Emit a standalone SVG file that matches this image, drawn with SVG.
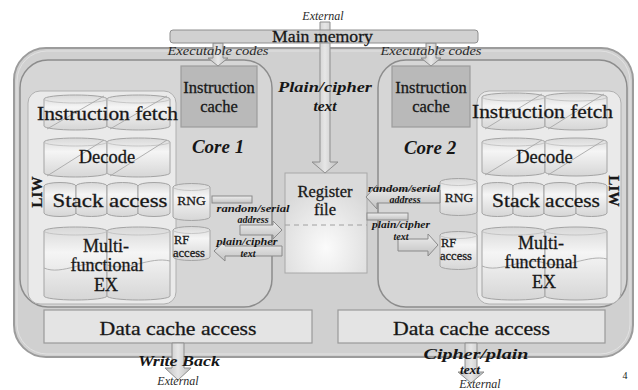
<svg xmlns="http://www.w3.org/2000/svg" width="638" height="390" viewBox="0 0 638 390">
  <defs>
    <linearGradient id="drum" x1="0" y1="0" x2="0" y2="1">
      <stop offset="0" stop-color="#d8d8d8"/>
      <stop offset="0.35" stop-color="#f5f5f5"/>
      <stop offset="1" stop-color="#d6d6d6"/>
    </linearGradient>
    <radialGradient id="rfGrad" cx="0.5" cy="0.75" r="0.65">
      <stop offset="0" stop-color="#fbfbfb"/>
      <stop offset="1" stop-color="#dadada"/>
    </radialGradient>
    <linearGradient id="arrowGrad" x1="0" y1="0" x2="0" y2="1">
      <stop offset="0" stop-color="#eeeeee"/>
      <stop offset="1" stop-color="#c2c2c2"/>
    </linearGradient>
    <linearGradient id="vArrowGrad" x1="0" y1="0" x2="1" y2="0">
      <stop offset="0" stop-color="#bdbdbd"/>
      <stop offset="0.5" stop-color="#e6e6e6"/>
      <stop offset="1" stop-color="#bdbdbd"/>
    </linearGradient>
  </defs>
  <style>
    .t { font-family: "Liberation Serif", "Times New Roman", serif; fill: #161616; text-anchor: middle; }
    .heavy { stroke: #1e1e1e; stroke-width: 0.3; }
    .stage { font-size: 18.5px; }
    .ex { font-size: 18px; }
    .lbl { font-style: italic; font-size: 12px; fill: #2a2a2a; }
    .bi { font-style: italic; font-weight: bold; }
    .tiny { font-style: italic; font-weight: bold; font-size: 10px; }
    .start { text-anchor: start; }
    .drum { fill: url(#drum); stroke: #a4a4a4; stroke-width: 1; }
    .rim { fill: none; stroke: #bdbdbd; stroke-width: 0.8; }
    .diag { fill: none; stroke: #a8a8a8; stroke-width: 0.9; }
    .panel { fill: #eaeaea; stroke: #b0b0b0; stroke-width: 1; }
    .core { fill: #d6d6d6; stroke: #8c8c8c; stroke-width: 1.5; }
    .icache { fill: #b9b9b9; stroke: #9c9c9c; stroke-width: 1.2; }
    .dcache { fill: #e4e4e4; stroke: #9a9a9a; stroke-width: 1.2; }
    .arrow { fill: url(#arrowGrad); stroke: #8a8a8a; stroke-width: 1; }
    .varrow { fill: url(#vArrowGrad); stroke: #8e8e8e; stroke-width: 1; }
  </style>

  <rect width="638" height="390" fill="#ffffff"/>

  <!-- chip outline -->
  <g id="chip">
    <rect x="14" y="48" width="619" height="309" rx="32" fill="#d0d0d0" stroke="#9c9c9c" stroke-width="2"/>
    <rect x="17" y="51" width="613" height="303" rx="30" fill="none" stroke="#e2e2e2" stroke-width="1"/>
  </g>

  <!-- core 1 -->
  <g id="core1">
    <rect class="core" x="20" y="60" width="252" height="247" rx="28"/>
    <rect class="panel" x="28" y="91" width="148" height="213" rx="12"/>
    <text class="t heavy" font-weight="bold" font-size="15" transform="translate(42,192) rotate(-90)">LIW</text>
    <text class="t bi" x="218" y="153" font-size="19">Core 1</text>
  </g>

  <g id="core1-icache">
    <rect class="icache" x="181" y="66" width="76" height="61"/>
    <text class="t heavy" x="219" y="93" font-size="16.5">Instruction</text>
    <text class="t heavy" x="219" y="112" font-size="16.5">cache</text>
  </g>

  <g id="core1-fetch">
    <path class="drum" d="M44,99 A31.5,4 0 0 1 107,99 V126 A31.5,4 0 0 1 44,126 Z"/>
    <path class="drum" d="M107,99 A31.5,4 0 0 1 170,99 V126 A31.5,4 0 0 1 107,126 Z"/>
    <path class="rim" d="M44,99 A31.5,4 0 0 0 107,99 M107,99 A31.5,4 0 0 0 170,99"/>
    <path class="diag" d="M47,129 L104,96 M110,129 L167,96"/>
    <text class="t stage heavy" x="107.5" y="120" textLength="141" lengthAdjust="spacingAndGlyphs">Instruction fetch</text>
  </g>

  <g id="core1-decode">
    <path class="drum" d="M44,142 A31.5,4 0 0 1 107,142 V173 A31.5,4 0 0 1 44,173 Z"/>
    <path class="drum" d="M107,142 A31.5,4 0 0 1 170,142 V173 A31.5,4 0 0 1 107,173 Z"/>
    <path class="rim" d="M44,142 A31.5,4 0 0 0 107,142 M107,142 A31.5,4 0 0 0 170,142"/>
    <path class="diag" d="M47,176 L104,140 M110,176 L167,140"/>
    <text class="t stage heavy" x="107" y="163">Decode</text>
  </g>

  <g id="core1-stack">
    <path class="drum" d="M44,186 A16,3.5 0 0 1 76,186 V213 A16,3.5 0 0 1 44,213 Z"/>
    <path class="drum" d="M76,186 A15.5,3.5 0 0 1 107,186 V213 A15.5,3.5 0 0 1 76,213 Z"/>
    <path class="drum" d="M107,186 A15.5,3.5 0 0 1 138,186 V213 A15.5,3.5 0 0 1 107,213 Z"/>
    <path class="drum" d="M138,186 A16,3.5 0 0 1 170,186 V213 A16,3.5 0 0 1 138,213 Z"/>
    <text class="t stage heavy" x="110" y="207" textLength="115" lengthAdjust="spacingAndGlyphs">Stack access</text>
  </g>

  <g id="core1-ex">
    <path class="drum" d="M44,231 A31.5,4 0 0 1 107,231 V296 A31.5,4 0 0 1 44,296 Z"/>
    <path class="drum" d="M107,231 A31.5,4 0 0 1 170,231 V296 A31.5,4 0 0 1 107,296 Z"/>
    <path class="rim" d="M44,231 A31.5,4 0 0 0 107,231 M107,231 A31.5,4 0 0 0 170,231"/>
    <path class="diag" d="M44,268 C62,276 86,258 107,265 S150,256 170,261"/>
    <text class="t ex heavy" x="106" y="252">Multi-</text>
    <text class="t ex heavy" x="107" y="271">functional</text>
    <text class="t ex heavy" x="106" y="291">EX</text>
  </g>

  <g id="core1-rng">
    <path class="drum" d="M173,187 A18.5,3.5 0 0 1 210,187 V217 A18.5,3.5 0 0 1 173,217 Z"/>
    <path class="rim" d="M173,187 A18.5,3.5 0 0 0 210,187"/>
    <text class="t heavy" x="191.5" y="205" font-size="13.5">RNG</text>
  </g>

  <g id="core1-rf">
    <path class="drum" d="M173,230 A18.5,3.5 0 0 1 210,230 V257 A18.5,3.5 0 0 1 173,257 Z"/>
    <path class="rim" d="M173,230 A18.5,3.5 0 0 0 210,230"/>
    <text class="t start heavy" x="174" y="244" font-size="12.5">RF</text>
    <text class="t start heavy" x="173" y="257" font-size="12.5">access</text>
  </g>

  <g id="core1-dcache">
    <rect class="dcache" x="44" y="310" width="268" height="33"/>
    <text class="t heavy" x="178" y="335" font-size="18.5" textLength="157" lengthAdjust="spacingAndGlyphs">Data cache access</text>
  </g>

  <!-- core 2 -->
  <g id="core2">
    <rect class="core" x="378" y="60" width="249" height="247" rx="28"/>
    <rect class="panel" x="477" y="91" width="144" height="213" rx="12"/>
    <text class="t heavy" font-weight="bold" font-size="15" transform="translate(609,191) rotate(90)">LIW</text>
    <text class="t bi" x="430" y="154" font-size="19">Core 2</text>
  </g>

  <g id="core2-icache">
    <rect class="icache" x="392" y="66" width="78" height="61"/>
    <text class="t heavy" x="431" y="93" font-size="16.5">Instruction</text>
    <text class="t heavy" x="431" y="112" font-size="16.5">cache</text>
  </g>

  <g id="core2-fetch">
    <path class="drum" d="M482,97 A31.5,4 0 0 1 545,97 V126 A31.5,4 0 0 1 482,126 Z"/>
    <path class="drum" d="M545,97 A31,4 0 0 1 607,97 V126 A31,4 0 0 1 545,126 Z"/>
    <path class="rim" d="M482,97 A31.5,4 0 0 0 545,97 M545,97 A31,4 0 0 0 607,97"/>
    <path class="diag" d="M485,129 L542,94 M548,129 L604,94"/>
    <text class="t stage heavy" x="542.5" y="118" textLength="141" lengthAdjust="spacingAndGlyphs">Instruction fetch</text>
  </g>

  <g id="core2-decode">
    <path class="drum" d="M482,142 A31.5,4 0 0 1 545,142 V172 A31.5,4 0 0 1 482,172 Z"/>
    <path class="drum" d="M545,142 A31,4 0 0 1 607,142 V172 A31,4 0 0 1 545,172 Z"/>
    <path class="rim" d="M482,142 A31.5,4 0 0 0 545,142 M545,142 A31,4 0 0 0 607,142"/>
    <path class="diag" d="M485,175 L542,140 M548,175 L604,140"/>
    <text class="t stage heavy" x="544.5" y="163">Decode</text>
  </g>

  <g id="core2-stack">
    <path class="drum" d="M482,186 A15.5,3.5 0 0 1 513,186 V213 A15.5,3.5 0 0 1 482,213 Z"/>
    <path class="drum" d="M513,186 A15.5,3.5 0 0 1 544,186 V213 A15.5,3.5 0 0 1 513,213 Z"/>
    <path class="drum" d="M544,186 A16,3.5 0 0 1 576,186 V213 A16,3.5 0 0 1 544,213 Z"/>
    <path class="drum" d="M576,186 A15.5,3.5 0 0 1 607,186 V213 A15.5,3.5 0 0 1 576,213 Z"/>
    <text class="t stage heavy" x="546" y="207" textLength="108" lengthAdjust="spacingAndGlyphs">Stack access</text>
  </g>

  <g id="core2-ex">
    <path class="drum" d="M482,231 A31.5,4 0 0 1 545,231 V296 A31.5,4 0 0 1 482,296 Z"/>
    <path class="drum" d="M545,231 A31,4 0 0 1 607,231 V296 A31,4 0 0 1 545,296 Z"/>
    <path class="rim" d="M482,231 A31.5,4 0 0 0 545,231 M545,231 A31,4 0 0 0 607,231"/>
    <path class="diag" d="M482,266 C500,274 524,256 545,263 S588,254 607,259"/>
    <text class="t ex heavy" x="541" y="249">Multi-</text>
    <text class="t ex heavy" x="541" y="268">functional</text>
    <text class="t ex heavy" x="544" y="288">EX</text>
  </g>

  <g id="core2-rng">
    <path class="drum" d="M440,182 A18.5,3.5 0 0 1 477,182 V212 A18.5,3.5 0 0 1 440,212 Z"/>
    <path class="rim" d="M440,182 A18.5,3.5 0 0 0 477,182"/>
    <text class="t heavy" x="459" y="202" font-size="13.5">RNG</text>
  </g>

  <g id="core2-rf">
    <path class="drum" d="M440,235 A18.5,3.5 0 0 1 477,235 V266 A18.5,3.5 0 0 1 440,266 Z"/>
    <path class="rim" d="M440,235 A18.5,3.5 0 0 0 477,235"/>
    <text class="t start heavy" x="441" y="247" font-size="12.5">RF</text>
    <text class="t start heavy" x="440" y="260" font-size="12.5">access</text>
  </g>

  <g id="core2-dcache">
    <rect class="dcache" x="338" y="310" width="267" height="33"/>
    <text class="t heavy" x="471.5" y="335" font-size="18.5" textLength="157" lengthAdjust="spacingAndGlyphs">Data cache access</text>
  </g>

  <!-- shared register file -->
  <g id="register-file">
    <rect x="285" y="173" width="82" height="100" fill="url(#rfGrad)" stroke="#a8a8a8" stroke-width="1"/>
    <line x1="285" y1="225" x2="367" y2="225" stroke="#a0a0a0" stroke-width="1" stroke-dasharray="5,4"/>
    <text class="t heavy" x="325" y="197" font-size="16.5">Register</text>
    <text class="t heavy" x="325" y="215" font-size="16.5">file</text>
  </g>

  <!-- connectors -->
  <g id="connectors">
    <!-- external / main memory to register file -->
    <polygon class="varrow" points="320,22 330,22 330,162 338,162 325,173 312,162 320,162"/>
    <!-- main memory to instruction caches -->
    <polygon class="varrow" points="213,43 223,43 223,58 228,58 218,66 208,58 213,58"/>
    <polygon class="varrow" points="426,43 436,43 436,58 441,58 431,66 421,58 426,58"/>
    <!-- write back / cipher-plain outputs -->
    <polygon class="varrow" points="172,343 184,343 184,368 191,368 178,380 165,368 172,368"/>
    <polygon class="varrow" points="465,343 477,343 477,372 484,372 471,383 458,372 465,372"/>

    <!-- core 1: RNG address to register file -->
    <rect class="arrow" x="212" y="196" width="40" height="7"/>
    <polygon class="arrow" points="240,225 273,225 273,221 282,230 273,239 273,235 240,235"/>
    <!-- core 1: register file to RF access -->
    <polygon class="arrow" points="282,246 225,246 225,241 214,251 225,261 225,256 282,256"/>

    <!-- core 2: RNG address to register file -->
    <polygon class="arrow" points="440,190 377,190 377,185 366,197 377,209 377,203 440,203"/>
    <rect class="arrow" x="367" y="213" width="41" height="7"/>
    <!-- core 2: register file to RF access -->
    <polygon class="arrow" points="398,239 428,239 428,234 438,245 428,256 428,251 398,251"/>
  </g>

  <!-- main memory (drawn over the feed-through shaft) -->
  <g id="main-memory">
    <rect x="170" y="30" width="308" height="13" rx="3" fill="#c9c9c9" fill-opacity="0.85" stroke="#8e8e8e" stroke-width="1"/>
    <text class="t heavy" x="322.5" y="42" font-size="17" textLength="101" lengthAdjust="spacingAndGlyphs">Main memory</text>
  </g>

  <!-- connector labels -->
  <g id="labels">
    <text class="t lbl" x="323" y="20" font-size="11.5">External</text>
    <text class="t lbl" x="218" y="55" textLength="101" lengthAdjust="spacingAndGlyphs">Executable codes</text>
    <text class="t lbl" x="431" y="55" textLength="101" lengthAdjust="spacingAndGlyphs">Executable codes</text>
    <text class="t bi" x="325" y="92" font-size="15.5" textLength="94" lengthAdjust="spacingAndGlyphs">Plain/cipher</text>
    <text class="t bi" x="325" y="111" font-size="15.5">text</text>

    <text class="t tiny" x="253" y="212" textLength="73" lengthAdjust="spacingAndGlyphs">random/serial</text>
    <text class="t tiny" x="253" y="223">address</text>
    <text class="t tiny" x="247" y="245" textLength="61" lengthAdjust="spacingAndGlyphs">plain/cipher</text>
    <text class="t tiny" x="248" y="257">text</text>

    <text class="t tiny" x="404" y="192" textLength="72" lengthAdjust="spacingAndGlyphs">random/serial</text>
    <text class="t tiny" x="405" y="203">address</text>
    <text class="t tiny" x="401" y="228" textLength="58" lengthAdjust="spacingAndGlyphs">plain/cipher</text>
    <text class="t tiny" x="401" y="240">text</text>

    <text class="t bi" x="179" y="366" font-size="14.5" textLength="82" lengthAdjust="spacingAndGlyphs">Write Back</text>
    <text class="t lbl" x="178" y="385" font-size="11.5">External</text>
    <text class="t bi" x="476" y="359" font-size="14" textLength="105" lengthAdjust="spacingAndGlyphs">Cipher/plain</text>
    <text class="t bi" x="470" y="374" font-size="13.5">text</text>
    <text class="t lbl" x="480" y="388" font-size="11.5">External</text>

    <text class="t" x="625" y="379" font-size="10">4</text>
  </g>
</svg>
